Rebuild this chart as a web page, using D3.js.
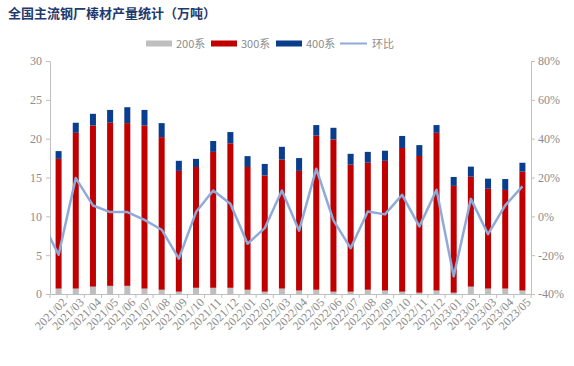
<!DOCTYPE html>
<html>
<head>
<meta charset="utf-8">
<script src="https://cdn.jsdelivr.net/npm/d3@7"></script>
<style>
  body { margin: 0; background: #fff; }
  svg { display: block; }
</style>
</head>
<body>
<script>
// months on the x axis
const months = ['2021/02','2021/03','2021/04','2021/05','2021/06','2021/07','2021/08','2021/09','2021/10','2021/11','2021/12',
  '2022/01','2022/02','2022/03','2022/04','2022/05','2022/06','2022/07','2022/08','2022/09','2022/10','2022/11','2022/12',
  '2023/01','2023/02','2023/03','2023/04','2023/05'];
// output by series (万吨)
const s200 = [0.7,0.7,0.95,1.05,1.05,0.7,0.55,0.3,0.8,0.8,0.8,0.55,0.3,0.7,0.45,0.55,0.3,0.3,0.55,0.45,0.3,0.17,0.45,0.17,0.95,0.7,0.7,0.45];
const s300 = [16.7,20.05,20.75,21.0,20.95,21.0,19.65,15.55,15.55,17.5,18.6,15.8,14.95,16.6,15.4,19.85,19.6,16.35,16.35,16.7,18.5,17.6,20.3,13.75,14.15,12.85,12.7,15.3];
const s400 = [1.0,1.3,1.5,1.65,2.05,2.0,1.8,1.3,1.05,1.4,1.45,1.4,1.5,1.65,1.65,1.35,1.5,1.4,1.4,1.3,1.55,1.4,1.0,1.15,1.3,1.3,1.4,1.15];
// month-on-month change (%), plus the clipped value of the month before the first one
const momPrev = -2;
const mom = [-19.8,19.7,5.6,2.2,2.2,-1.8,-6.9,-21.8,2.2,13.3,6.5,-14.1,-6.1,13.3,-7.4,24.5,-2.1,-16.4,2.5,1.0,11.1,-5.2,13.7,-30.9,9.0,-9.2,5.6,15.4];
const leftTicks = [0,5,10,15,20,25,30];
const rightTicks = [-40,-20,0,20,40,60,80];

const seriesNames = ['200系','300系','400系'];
const seriesColors = ['#bfbfbf','#c00000','#0a3d8c'];
const lineColor = '#8eaad8';
const axisColor = '#bfbfbf';
const tickText = '#8c8c8c';

const W = 574, H = 366;
const m = {left: 50, right: 43, top: 61, bottom: 72};

const svg = d3.select('body').append('svg').attr('width', W).attr('height', H);

svg.append('text').text('全国主流钢厂棒材产量统计（万吨）')
  .attr('x', 8).attr('y', 18)
  .style('font-family', '"Noto Sans CJK SC", sans-serif')
  .style('font-weight', 'bold').style('font-size', '13px')
  .style('fill', '#1f3a6e');

const x = d3.scaleBand().domain(months).range([m.left, W - m.right]).paddingInner(0.65).paddingOuter(0.325);
const y = d3.scaleLinear().domain([0, 30]).range([H - m.bottom, m.top]);
const y2 = d3.scaleLinear().domain([-40, 80]).range([H - m.bottom, m.top]);

// stacked bars
const rows = months.map((mo, i) => ({month: mo, a: s200[i], b: s300[i], c: s400[i]}));
const stack = d3.stack().keys(['a','b','c'])(rows);
svg.append('g').selectAll('g').data(stack).join('g')
  .attr('fill', (d, i) => seriesColors[i])
  .selectAll('rect').data(d => d).join('rect')
  .attr('x', d => x(d.data.month))
  .attr('width', x.bandwidth())
  .attr('y', d => y(d[1]))
  .attr('height', d => y(d[0]) - y(d[1]));

// axes
function styleAxis(g) {
  g.select('.domain').attr('stroke', axisColor);
  g.selectAll('.tick line').attr('stroke', axisColor);
  g.selectAll('.tick text').attr('fill', tickText)
    .style('font-family', '"Liberation Serif", serif').style('font-size', '12px');
}

svg.append('g').attr('transform', `translate(${m.left},0)`)
  .call(d3.axisLeft(y).tickValues(leftTicks).tickSize(4).tickSizeOuter(0).tickPadding(4))
  .call(styleAxis);

svg.append('g').attr('transform', `translate(${W - m.right},0)`)
  .call(d3.axisRight(y2).tickValues(rightTicks).tickSize(4).tickSizeOuter(0).tickPadding(3).tickFormat(d => d + '%'))
  .call(styleAxis);

const xAxis = svg.append('g').attr('transform', `translate(0,${H - m.bottom})`)
  .call(d3.axisBottom(x).tickSize(0).tickSizeOuter(0))
  .call(styleAxis);
xAxis.selectAll('.tick text')
  .attr('text-anchor', 'end')
  .attr('transform', 'translate(6,6) rotate(-45)')
  .attr('dy', '0.35em').attr('y', 0).attr('x', 0);
// ticks between categories
const step = x.step();
const bounds = d3.range(months.length + 1).map(i => m.left + i * step);
xAxis.selectAll('.sep').data(bounds).join('line').attr('class', 'sep')
  .attr('x1', d => d).attr('x2', d => d).attr('y1', 0).attr('y2', 4)
  .attr('stroke', axisColor);

// mom line
svg.append('clipPath').attr('id', 'plot').append('rect')
  .attr('x', m.left).attr('y', 0).attr('width', W - m.left - m.right).attr('height', H);
const cx = i => x(months[i]) + x.bandwidth() / 2;
const pts = [[cx(0) - step, momPrev]].concat(mom.map((v, i) => [cx(i), v]));
svg.append('path').datum(pts)
  .attr('clip-path', 'url(#plot)')
  .attr('d', d3.line().x(d => d[0]).y(d => y2(d[1])))
  .attr('fill', 'none').attr('stroke', lineColor).attr('stroke-width', 2.5)
  .attr('stroke-linejoin', 'round');

// legend
const legend = svg.append('g');
const lx = [146, 211, 276];
seriesNames.forEach((name, i) => {
  legend.append('rect').attr('x', lx[i]).attr('y', 40.5).attr('width', 26).attr('height', 6).attr('fill', seriesColors[i]);
  legend.append('text').text(name).attr('x', lx[i] + 30).attr('y', 47.5)
    .style('font-family', '"Noto Sans CJK SC", sans-serif').style('font-size', '11px').style('fill', '#8c8c8c');
});
legend.append('line').attr('x1', 340).attr('x2', 367).attr('y1', 43.5).attr('y2', 43.5)
  .attr('stroke', lineColor).attr('stroke-width', 2);
legend.append('text').text('环比').attr('x', 372).attr('y', 47.5)
  .style('font-family', '"Noto Sans CJK SC", sans-serif').style('font-size', '11px').style('fill', '#8c8c8c');
</script>
</body>
</html>
